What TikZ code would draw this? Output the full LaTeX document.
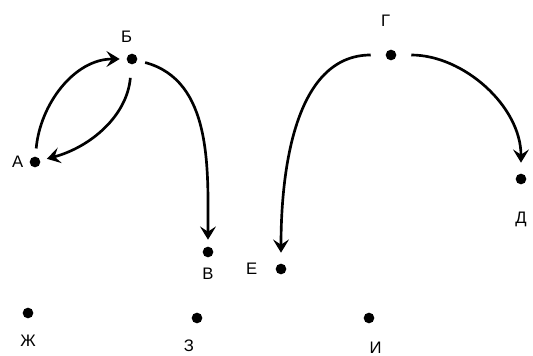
\documentclass[tikz,border=0pt]{standalone}
\usepackage{fontspec}
\setmainfont{Liberation Sans}
\usetikzlibrary{arrows.meta}
\begin{document}
\begin{tikzpicture}[
    x=0.75pt, y=-0.75pt,
    font=\fontsize{12.5}{14}\selectfont,
    dot/.style={circle, fill, inner sep=0pt, minimum size=8pt, label distance=2pt},
    link/.style={line width=2pt, -{Stealth[length=10pt, width=12pt, inset=4pt]}, shorten <=6pt, shorten >=5pt}
]
    \useasboundingbox (0, 0) rectangle (533, 356);

    % Vertices
    \node[dot, label={[xshift=-1pt]left:А}] (a) at (35, 162) {};
    \node[dot, label={[xshift=-4pt, label distance=5pt]above:Б}] (b) at (132, 59) {};
    \node[dot, label={[label distance=4pt]below:В}] (v) at (208, 252) {};
    \node[dot, label={[xshift=-4pt, label distance=14pt]above:Г}] (g) at (391, 55) {};
    \node[dot, label={[label distance=17pt]below:Д}] (d) at (521, 179) {};
    \node[dot, label={[label distance=10pt]left:Е}] (e) at (281, 269) {};
    \node[dot, label={[label distance=9pt]below:Ж}] (zh) at (28, 313) {};
    \node[dot, label={[xshift=-6pt, label distance=9pt]below:З}] (z) at (197, 318) {};
    \node[dot, label={[xshift=5pt, label distance=10pt]below:И}] (i) at (369, 318) {};

    % Arcs
    \draw[link] (a) to[out=85, in=180] (b);
    \draw[link, shorten <=10pt] (b) to[out=-95, in=15] (a);
    \draw[link] (b) to[out=-15, in=90] (v);
    \draw[link, shorten <=11pt, shorten >=8pt] (g) to[out=180, in=90] (e);
    \draw[link, shorten <=11pt, shorten >=8pt] (g) to[out=0, in=90] (d);
\end{tikzpicture}
\end{document}
